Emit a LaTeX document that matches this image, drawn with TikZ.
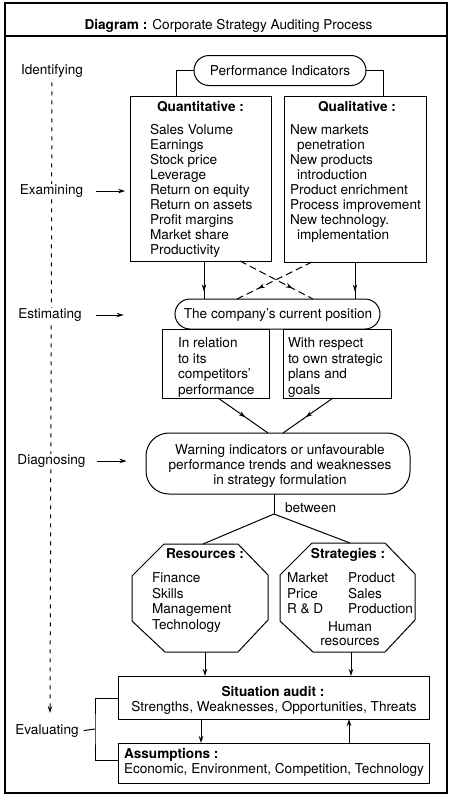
\documentclass[tikz,border=0pt]{standalone}
\usepackage{fontspec}
\setmainfont{TeX Gyre Heros}
\usetikzlibrary{arrows.meta,decorations.markings}
\begin{document}
\begin{tikzpicture}[x=1pt,y=-1pt,
  every node/.style={inner sep=0pt, outer sep=0pt},
  font=\fontsize{13.6}{15}\selectfont,
  line width=1pt,
  frame/.style={draw, line width=1.3pt, rectangle},
  box/.style={draw, rectangle},
  oval/.style={draw, rectangle, rounded corners=#1},
  plain/.style={draw=none, rectangle},
  tl/.style={anchor=base west},
  tc/.style={anchor=base},
  lab/.style={anchor=base, fill=white, inner sep=1pt},
  arr/.style={-{Stealth[length=7pt,width=4.5pt]}},
  midarr/.style={postaction={decorate}, decoration={markings, mark=at position #1 with {\arrow{Stealth[length=7pt,width=4.5pt]}}}},
  dsh/.style={dash pattern=on 7pt off 4pt},
  vdash/.style={dash pattern=on 4pt off 5pt, -{Stealth[length=7pt,width=4.5pt]}}
]
\useasboundingbox (0,0) rectangle (451,803);

% frame and title
\node[frame, minimum width=442pt, minimum height=790pt] (frame) at (226,398) {};
\draw[line width=1.3pt] (frame.west |- 0,36) -- (frame.east |- 0,36);
\node[tc] (title) at (228.5,29) {\textbf{Diagram :} Corporate Strategy Auditing Process};

% left dashed time line
\coordinate (vend) at (50,713);
\node[lab] (ident) at (52,74.5) {Identifying};
\draw[vdash] ([yshift=-4pt]ident.south) -- (vend);
\node[lab] (exam) at (51.5,194.5) {Examining};
\node[lab] (estl) at (50,318.5) {Estimating};
\node[lab] (diagl) at (51.5,464.5) {Diagnosing};
\node[lab] (eval) at (47,734) {Evaluating};

% performance indicators
\node[oval=15pt, minimum width=172pt, minimum height=30pt] (pi) at (280,70.5) {Performance Indicators};
\node[box, minimum width=141pt, minimum height=165pt] (quant) at (200.5,178.5) {};
\node[box, minimum width=142pt, minimum height=166pt] (qual) at (355,179) {};
\coordinate (qa) at (176,96);
\coordinate (qb) at (383,96);
\draw (pi.west) -| (qa);
\draw (pi.east) -| (qb);

\node[tc] (quanth) at (200.5,111.5) {\textbf{Quantitative :}};
\node[tl] (q1) at (150,134.5) {Sales Volume};
\node[tl] (q2) at (150,149.5) {Earnings};
\node[tl] (q3) at (150,164.5) {Stock price};
\node[tl] (q4) at (150,179.5) {Leverage};
\node[tl] (q5) at (150,194.5) {Return on equity};
\node[tl] (q6) at (150,209.5) {Return on assets};
\node[tl] (q7) at (150,224.5) {Profit margins};
\node[tl] (q8) at (150,239.5) {Market share};
\node[tl] (q9) at (150,254.5) {Productivity};

\node[tc] (qualh) at (357,111.5) {\textbf{Qualitative :}};
\node[tl] (l1) at (290,134.5) {New markets};
\node[tl] (l2) at (297,149.5) {penetration};
\node[tl] (l3) at (290,164.5) {New products};
\node[tl] (l4) at (297,179.5) {introduction};
\node[tl] (l5) at (290,194.5) {Product enrichment};
\node[tl] (l6) at (290,209.5) {Process improvement};
\node[tl] (l7) at (290,224.5) {New technology.};
\node[tl] (l8) at (297,239.5) {implementation};

\draw[arr] ([xshift=12pt]exam.east) -- ++(29,0);

% current position
\node[oval=15pt, minimum width=205pt, minimum height=30pt] (est) at (277.5,314) {};
\node[tc] (estt) at (278,318.5) {The company's current position};
\draw[arr] ([xshift=13pt]estl.east) -- ++(28,0);

\draw[midarr=0.8] (quant.south -| 204,0) -- (est.north -| 204,0);
\draw[midarr=0.8] (qual.south -| 355,0) -- (est.north -| 355,0);
\draw[dsh, midarr=0.72] (quant.south -| 240,0) -- (est.north -| 313,0);
\draw[dsh, midarr=0.72] (qual.south -| 312,0) -- (est.north -| 237,0);

\node[box, minimum width=107pt, minimum height=69pt] (rel1) at (215.5,363.5) {};
\node[box, minimum width=108pt, minimum height=69pt] (rel2) at (337,363.5) {};
\node[tl] (r11) at (178,347.5) {In relation};
\node[tl] (r12) at (178,363) {to its};
\node[tl] (r13) at (178,378.5) {competitors'};
\node[tl] (r14) at (178,394) {performance};
\node[tl] (r21) at (288,347.5) {With respect};
\node[tl] (r22) at (288,363) {to own strategic};
\node[tl] (r23) at (288,378.5) {plans and};
\node[tl] (r24) at (288,394) {goals};

% diagnosing
\node[oval=23pt, minimum width=264pt, minimum height=61pt] (diag) at (278,463.5) {};
\node[tc] (d1) at (280,454.5) {Warning indicators or unfavourable};
\node[tc] (d2) at (280,469.5) {performance trends and weaknesses};
\node[tc] (d3) at (280,484.5) {in strategy formulation};
\draw[arr] ([xshift=10pt]diagl.east) -- ++(30,0);
\draw[midarr=0.55] (rel1.south -| 218,0) -- (diag.north -| 268,0);
\draw[midarr=0.55] (rel2.south -| 333,0) -- (diag.north -| 283,0);

% between
\coordinate (bt) at (274,514);
\node[tl] (betw) at (285,512) {between};

% octagons
\node[plain, minimum width=136pt, minimum height=108pt] (res) at (200,598) {};
\node[plain, minimum width=135pt, minimum height=109pt] (str) at (347.5,597.5) {};
\foreach \o in {res,str}{
  \draw ([xshift=32pt]\o.north west) -- ([xshift=-30pt]\o.north east)
     -- ([yshift=-31pt]\o.north east) -- ([yshift=32pt]\o.south east)
     -- ([xshift=-30pt]\o.south east) -- ([xshift=33pt]\o.south west)
     -- ([yshift=31pt]\o.south west) -- ([yshift=-32pt]\o.north west) -- cycle;
}
\draw (diag.south -| bt) -- (bt);
\draw (bt) -- (res.north -| 203,0);
\draw (bt) -- (str.north -| 350,0);

\node[tc] (resh) at (205,558) {\textbf{Resources :}};
\node[tl] (s1) at (152,582.5) {Finance};
\node[tl] (s2) at (152,598) {Skills};
\node[tl] (s3) at (152,613.5) {Management};
\node[tl] (s4) at (152,629) {Technology};

\node[tc] (strh) at (348,558.5) {\textbf{Strategies :}};
\node[tl] (t1) at (287,582.5) {Market};
\node[tl] (t2) at (287,598) {Price};
\node[tl] (t3) at (287,613.5) {R \& D};
\node[tl] (t4) at (348,582.5) {Product};
\node[tl] (t5) at (348,598) {Sales};
\node[tl] (t6) at (348,613.5) {Production};
\node[tc] (t7) at (350,631.5) {Human};
\node[tc] (t8) at (350,645.5) {resources};

% situation audit and assumptions
\node[box, minimum width=311pt, minimum height=43pt] (sa) at (273.5,697.5) {};
\node[box, minimum width=311pt, minimum height=40pt] (as) at (273.5,763) {};
\node[tc] (sah) at (273,696) {\textbf{Situation audit :}};
\node[tc] (sat) at (274,711.5) {Strengths, Weaknesses, Opportunities, Threats};
\node[tl] (ash) at (124,758.5) {\textbf{Assumptions :}};
\node[tl] (ast) at (124,773.5) {Economic, Environment, Competition, Technology};

\draw[arr] (res.south -| 205,0) -- (sa.north -| 205,0);
\draw[arr] (str.south -| 351,0) -- (sa.north -| 351,0);
\draw[arr] (sa.south -| 201,0) -- (as.north -| 201,0);
\draw[arr] (as.north -| 349,0) -- (sa.south -| 349,0);

% evaluating bracket
\coordinate (br) at (95,729);
\draw ([xshift=4pt]eval.east) -- (br);
\draw (sa.west |- 0,698) -| (br) |- (as.west |- 0,760);
\end{tikzpicture}
\end{document}
